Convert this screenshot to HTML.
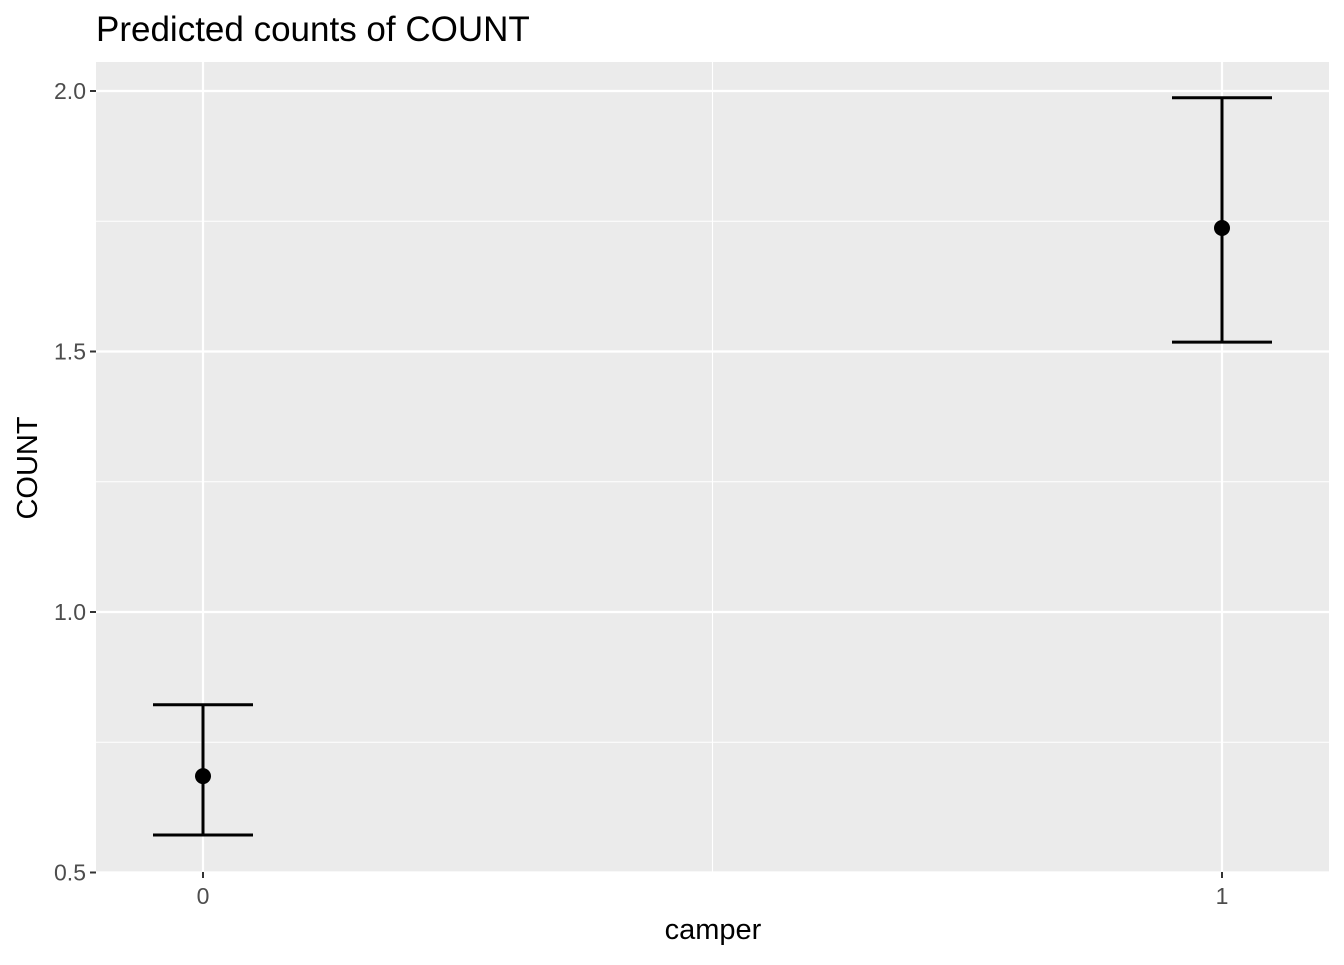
<!DOCTYPE html>
<html><head><meta charset="utf-8"><style>
body{margin:0;background:#fff;}
svg text{font-family:"Liberation Sans",Arial,sans-serif;}
</style></head><body>
<svg id="chart" width="1344" height="960" xmlns="http://www.w3.org/2000/svg">
<text x="96" y="41" font-size="35" fill="#000">Predicted counts of COUNT</text>
<rect x="96" y="62" width="1233" height="810" fill="#ebebeb"/>
<g id="grid"></g>
<g id="axes"></g>
<g id="marks"></g>
<text x="713" y="939" font-size="29" text-anchor="middle" fill="#000">camper</text>
<text transform="translate(37,468) rotate(-90)" font-size="29" text-anchor="middle" fill="#000">COUNT</text>
</svg>
<script>
const categories = ["0", "1"];
const predicted = [0.685, 1.737];
const upper = [0.822, 1.987];
const lower = [0.572, 1.518];
const yTicks = [0.5, 1.0, 1.5, 2.0];
const yTickLabels = ["0.5", "1.0", "1.5", "2.0"];
const yMinor = [0.75, 1.25, 1.75];

const NS = "http://www.w3.org/2000/svg";
const X0 = 203, X1 = 1222, PL = 96, PR = 1329, PT = 62, PB = 872;
function xs(i){ return X0 + (X1 - X0) * i / (categories.length - 1); }
function ys(v){ return 91 + (2.0 - v) * 521; }
function mk(tag, attrs, parent){ const e = document.createElementNS(NS, tag); for (const k in attrs) e.setAttribute(k, attrs[k]); parent.appendChild(e); return e; }
const grid = document.getElementById('grid'), axes = document.getElementById('axes'), marks = document.getElementById('marks');

yMinor.forEach(v => {
  const l = mk('line', {x1: PL, x2: PR, y1: ys(v), y2: ys(v), stroke: '#fff', 'stroke-width': 1.1}, grid);
  
  
});
const mid = mk('line', {x1: (xs(0) + xs(1)) / 2, x2: (xs(0) + xs(1)) / 2, y1: PT, y2: PB, stroke: '#fff', 'stroke-width': 1.1}, grid);


yTicks.forEach((v, i) => {
  const l = mk('line', {x1: PL, x2: PR, y1: ys(v), y2: ys(v), stroke: '#fff', 'stroke-width': 2.2}, grid);
  
  
  const t = mk('line', {x1: PL - 6, x2: PL, y1: ys(v), y2: ys(v), stroke: '#333', 'stroke-width': 2}, axes);
  
  
  const tx = mk('text', {x: PL - 10, y: ys(v) + 8, 'font-size': 23, 'text-anchor': 'end', fill: '#4d4d4d'}, axes);
  tx.textContent = yTickLabels[i];
  
  
});
categories.forEach((c, i) => {
  const l = mk('line', {x1: xs(i), x2: xs(i), y1: PT, y2: PB, stroke: '#fff', 'stroke-width': 2.2}, grid);
  
  
  const t = mk('line', {x1: xs(i), x2: xs(i), y1: PB, y2: PB + 6, stroke: '#333', 'stroke-width': 2}, axes);
  
  
  const tx = mk('text', {x: xs(i), y: PB + 32, 'font-size': 23, 'text-anchor': 'middle', fill: '#4d4d4d'}, axes);
  tx.textContent = c;
  
  

  const g = mk('g', {stroke: '#000', 'stroke-width': 3, fill: 'none'}, marks);
  
  
  mk('line', {x1: xs(i), x2: xs(i), y1: ys(upper[i]), y2: ys(lower[i])}, g);
  mk('line', {x1: xs(i) - 50, x2: xs(i) + 50, y1: ys(upper[i]), y2: ys(upper[i])}, g);
  mk('line', {x1: xs(i) - 50, x2: xs(i) + 50, y1: ys(lower[i]), y2: ys(lower[i])}, g);
  const p = mk('circle', {cx: xs(i), cy: ys(predicted[i]), r: 8, fill: '#000'}, marks);
  
  
});
</script>
</body></html>
